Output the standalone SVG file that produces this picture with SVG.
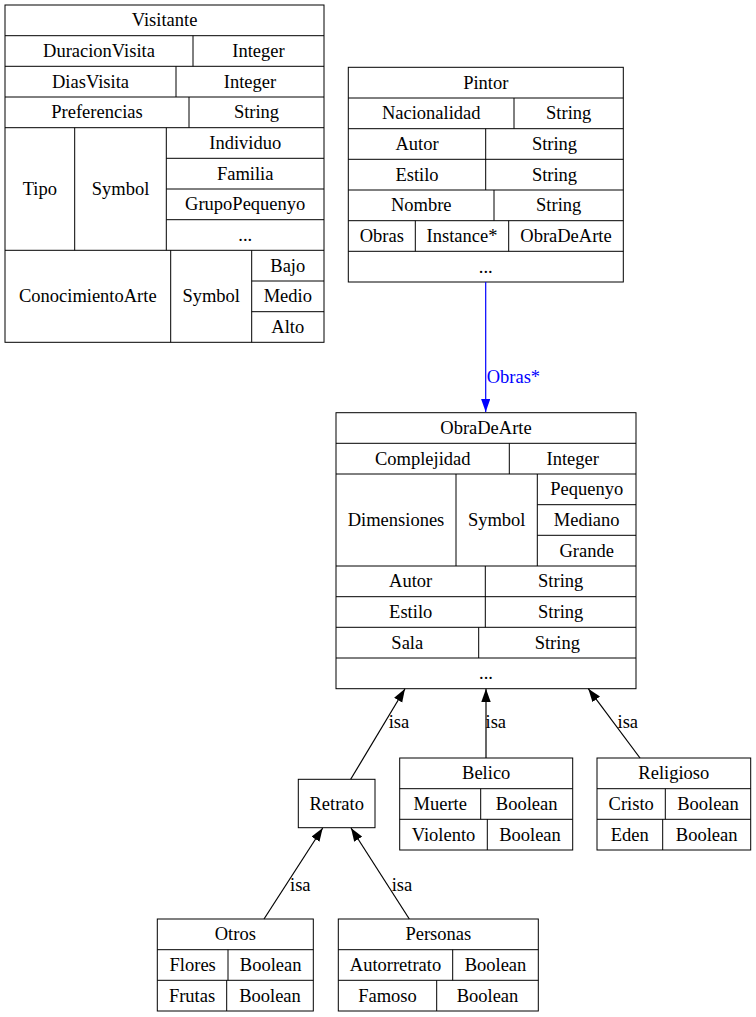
<svg xmlns="http://www.w3.org/2000/svg" width="756" height="1017" viewBox="0 0 756 1017">
<style>
.b{fill:none;stroke:#000;stroke-width:1}
.l{stroke:#000;stroke-width:1}
text{font-family:"Liberation Serif","Times New Roman",serif;font-size:18.5px;fill:#000}
.t{text-anchor:middle}
.e{stroke:#000;stroke-width:1.2;fill:none}
</style>
<defs>
<marker id="ah" markerUnits="userSpaceOnUse" markerWidth="14" markerHeight="10" refX="13.3" refY="4.7" orient="auto"><path d="M0,0 L13.3,4.7 L0,9.4 Z" fill="#000"/></marker>
<marker id="ahb" markerUnits="userSpaceOnUse" markerWidth="14" markerHeight="10" refX="13.3" refY="4.7" orient="auto"><path d="M0,0 L13.3,4.7 L0,9.4 Z" fill="#00f"/></marker>
</defs>
<rect width="756" height="1017" fill="#fff"/>

<g id="Visitante">
<rect class="b" x="5" y="5" width="319" height="337.3"/>
<path class="l" d="M5,35.7H324M5,66.3H324M5,97H324M5,127.7H324M166.3,158.3H324M166.3,189H324M166.3,219.7H324M5,250.3H324M251.7,281H324M251.7,311.7H324M193,35.7V66.3M176,66.3V97M189,97V127.7M74.7,127.7V250.3M166.3,127.7V250.3M170.7,250.3V342.3M251.7,250.3V342.3"/>
<text class="t" x="164.5" y="26.3">Visitante</text>
<text class="t" x="99" y="57">DuracionVisita</text>
<text class="t" x="258.5" y="57">Integer</text>
<text class="t" x="90.5" y="87.7">DiasVisita</text>
<text class="t" x="250" y="87.7">Integer</text>
<text class="t" x="97" y="118.3">Preferencias</text>
<text class="t" x="256.5" y="118.3">String</text>
<text class="t" x="39.8" y="195">Tipo</text>
<text class="t" x="120.5" y="195">Symbol</text>
<text class="t" x="245.2" y="149">Individuo</text>
<text class="t" x="245.2" y="179.7">Familia</text>
<text class="t" x="245.2" y="210.3">GrupoPequenyo</text>
<text class="t" x="245.2" y="241">...</text>
<text class="t" x="87.8" y="302.3">ConocimientoArte</text>
<text class="t" x="211.2" y="302.3">Symbol</text>
<text class="t" x="287.8" y="271.7">Bajo</text>
<text class="t" x="287.8" y="302.3">Medio</text>
<text class="t" x="287.8" y="333">Alto</text>
</g>

<g id="Pintor">
<rect class="b" x="348.3" y="67.3" width="275" height="214.7"/>
<path class="l" d="M348.3,98H623.3M348.3,128.7H623.3M348.3,159.3H623.3M348.3,190H623.3M348.3,220.7H623.3M348.3,251.3H623.3M514,98V128.7M485.7,128.7V190M494,190V220.7M415.3,220.7V251.3M508.7,220.7V251.3"/>
<text class="t" x="485.8" y="88.7">Pintor</text>
<text class="t" x="431.2" y="119.3">Nacionalidad</text>
<text class="t" x="568.7" y="119.3">String</text>
<text class="t" x="417" y="150">Autor</text>
<text class="t" x="554.5" y="150">String</text>
<text class="t" x="417" y="180.7">Estilo</text>
<text class="t" x="554.5" y="180.7">String</text>
<text class="t" x="421.2" y="211.3">Nombre</text>
<text class="t" x="558.7" y="211.3">String</text>
<text class="t" x="381.8" y="242">Obras</text>
<text class="t" x="462" y="242">Instance*</text>
<text class="t" x="566" y="242">ObraDeArte</text>
<text class="t" x="485.8" y="272.7">...</text>
</g>

<g id="ObraDeArte">
<rect class="b" x="336" y="412.7" width="300" height="276"/>
<path class="l" d="M336,443.3H636M336,474H636M537.3,504.7H636M537.3,535.3H636M336,566H636M336,596.7H636M336,627.3H636M336,658H636M509.3,443.3V474M456,474V566M537.3,474V566M485.3,566V627.3M478.7,627.3V658"/>
<text class="t" x="486" y="434">ObraDeArte</text>
<text class="t" x="422.7" y="464.7">Complejidad</text>
<text class="t" x="572.7" y="464.7">Integer</text>
<text class="t" x="396" y="526">Dimensiones</text>
<text class="t" x="496.7" y="526">Symbol</text>
<text class="t" x="586.7" y="495.3">Pequenyo</text>
<text class="t" x="586.7" y="526">Mediano</text>
<text class="t" x="586.7" y="556.7">Grande</text>
<text class="t" x="410.7" y="587.3">Autor</text>
<text class="t" x="560.7" y="587.3">String</text>
<text class="t" x="410.7" y="618">Estilo</text>
<text class="t" x="560.7" y="618">String</text>
<text class="t" x="407.3" y="648.7">Sala</text>
<text class="t" x="557.3" y="648.7">String</text>
<text class="t" x="486" y="679.3">...</text>
</g>

<g id="Retrato">
<rect class="b" x="298.3" y="779.3" width="76.7" height="48.4"/>
<text class="t" x="336.7" y="809.5">Retrato</text>
</g>

<g id="Belico">
<rect class="b" x="399.7" y="758" width="173" height="92"/>
<path class="l" d="M399.7,788.7H572.7M399.7,819.3H572.7M480.7,788.7V819.3M487.3,819.3V850"/>
<text class="t" x="486.2" y="779.3">Belico</text>
<text class="t" x="440.2" y="810">Muerte</text>
<text class="t" x="526.7" y="810">Boolean</text>
<text class="t" x="443.5" y="840.7">Violento</text>
<text class="t" x="530" y="840.7">Boolean</text>
</g>

<g id="Religioso">
<rect class="b" x="597" y="758" width="153.7" height="92"/>
<path class="l" d="M597,788.7H750.7M597,819.3H750.7M665.3,788.7V819.3M662.7,819.3V850"/>
<text class="t" x="673.8" y="779.3">Religioso</text>
<text class="t" x="631.2" y="810">Cristo</text>
<text class="t" x="708" y="810">Boolean</text>
<text class="t" x="629.8" y="840.7">Eden</text>
<text class="t" x="706.7" y="840.7">Boolean</text>
</g>

<g id="Otros">
<rect class="b" x="157.3" y="919" width="156" height="92"/>
<path class="l" d="M157.3,949.7H313.3M157.3,980.3H313.3M228,949.7V980.3M226.7,980.3V1011"/>
<text class="t" x="235.3" y="940.3">Otros</text>
<text class="t" x="192.7" y="971">Flores</text>
<text class="t" x="270.7" y="971">Boolean</text>
<text class="t" x="192" y="1001.7">Frutas</text>
<text class="t" x="270" y="1001.7">Boolean</text>
</g>

<g id="Personas">
<rect class="b" x="338.3" y="919" width="200" height="92"/>
<path class="l" d="M338.3,949.7H538.3M338.3,980.3H538.3M452.7,949.7V980.3M436.7,980.3V1011"/>
<text class="t" x="438.3" y="940.3">Personas</text>
<text class="t" x="395.5" y="971">Autorretrato</text>
<text class="t" x="495.5" y="971">Boolean</text>
<text class="t" x="387.5" y="1001.7">Famoso</text>
<text class="t" x="487.5" y="1001.7">Boolean</text>
</g>

<g id="connectors">
<line x1="485.7" y1="282" x2="485.7" y2="412" stroke="#00f" stroke-width="1.2" marker-end="url(#ahb)"/>
<text x="486.7" y="382.7" fill="#00f" style="fill:#00f">Obras*</text>
<line class="e" x1="350.7" y1="779.3" x2="405" y2="688.7" marker-end="url(#ah)"/>
<text x="388.7" y="728">isa</text>
<line class="e" x1="486" y1="758" x2="486" y2="688.7" marker-end="url(#ah)"/>
<text x="485.5" y="728">isa</text>
<line class="e" x1="640" y1="758" x2="588.3" y2="688.7" marker-end="url(#ah)"/>
<text x="617.5" y="728">isa</text>
<line class="e" x1="264" y1="919" x2="322.7" y2="828" marker-end="url(#ah)"/>
<text x="290" y="890.5">isa</text>
<line class="e" x1="409.3" y1="919" x2="351" y2="828" marker-end="url(#ah)"/>
<text x="391.7" y="890.5">isa</text>
</g>
</svg>
